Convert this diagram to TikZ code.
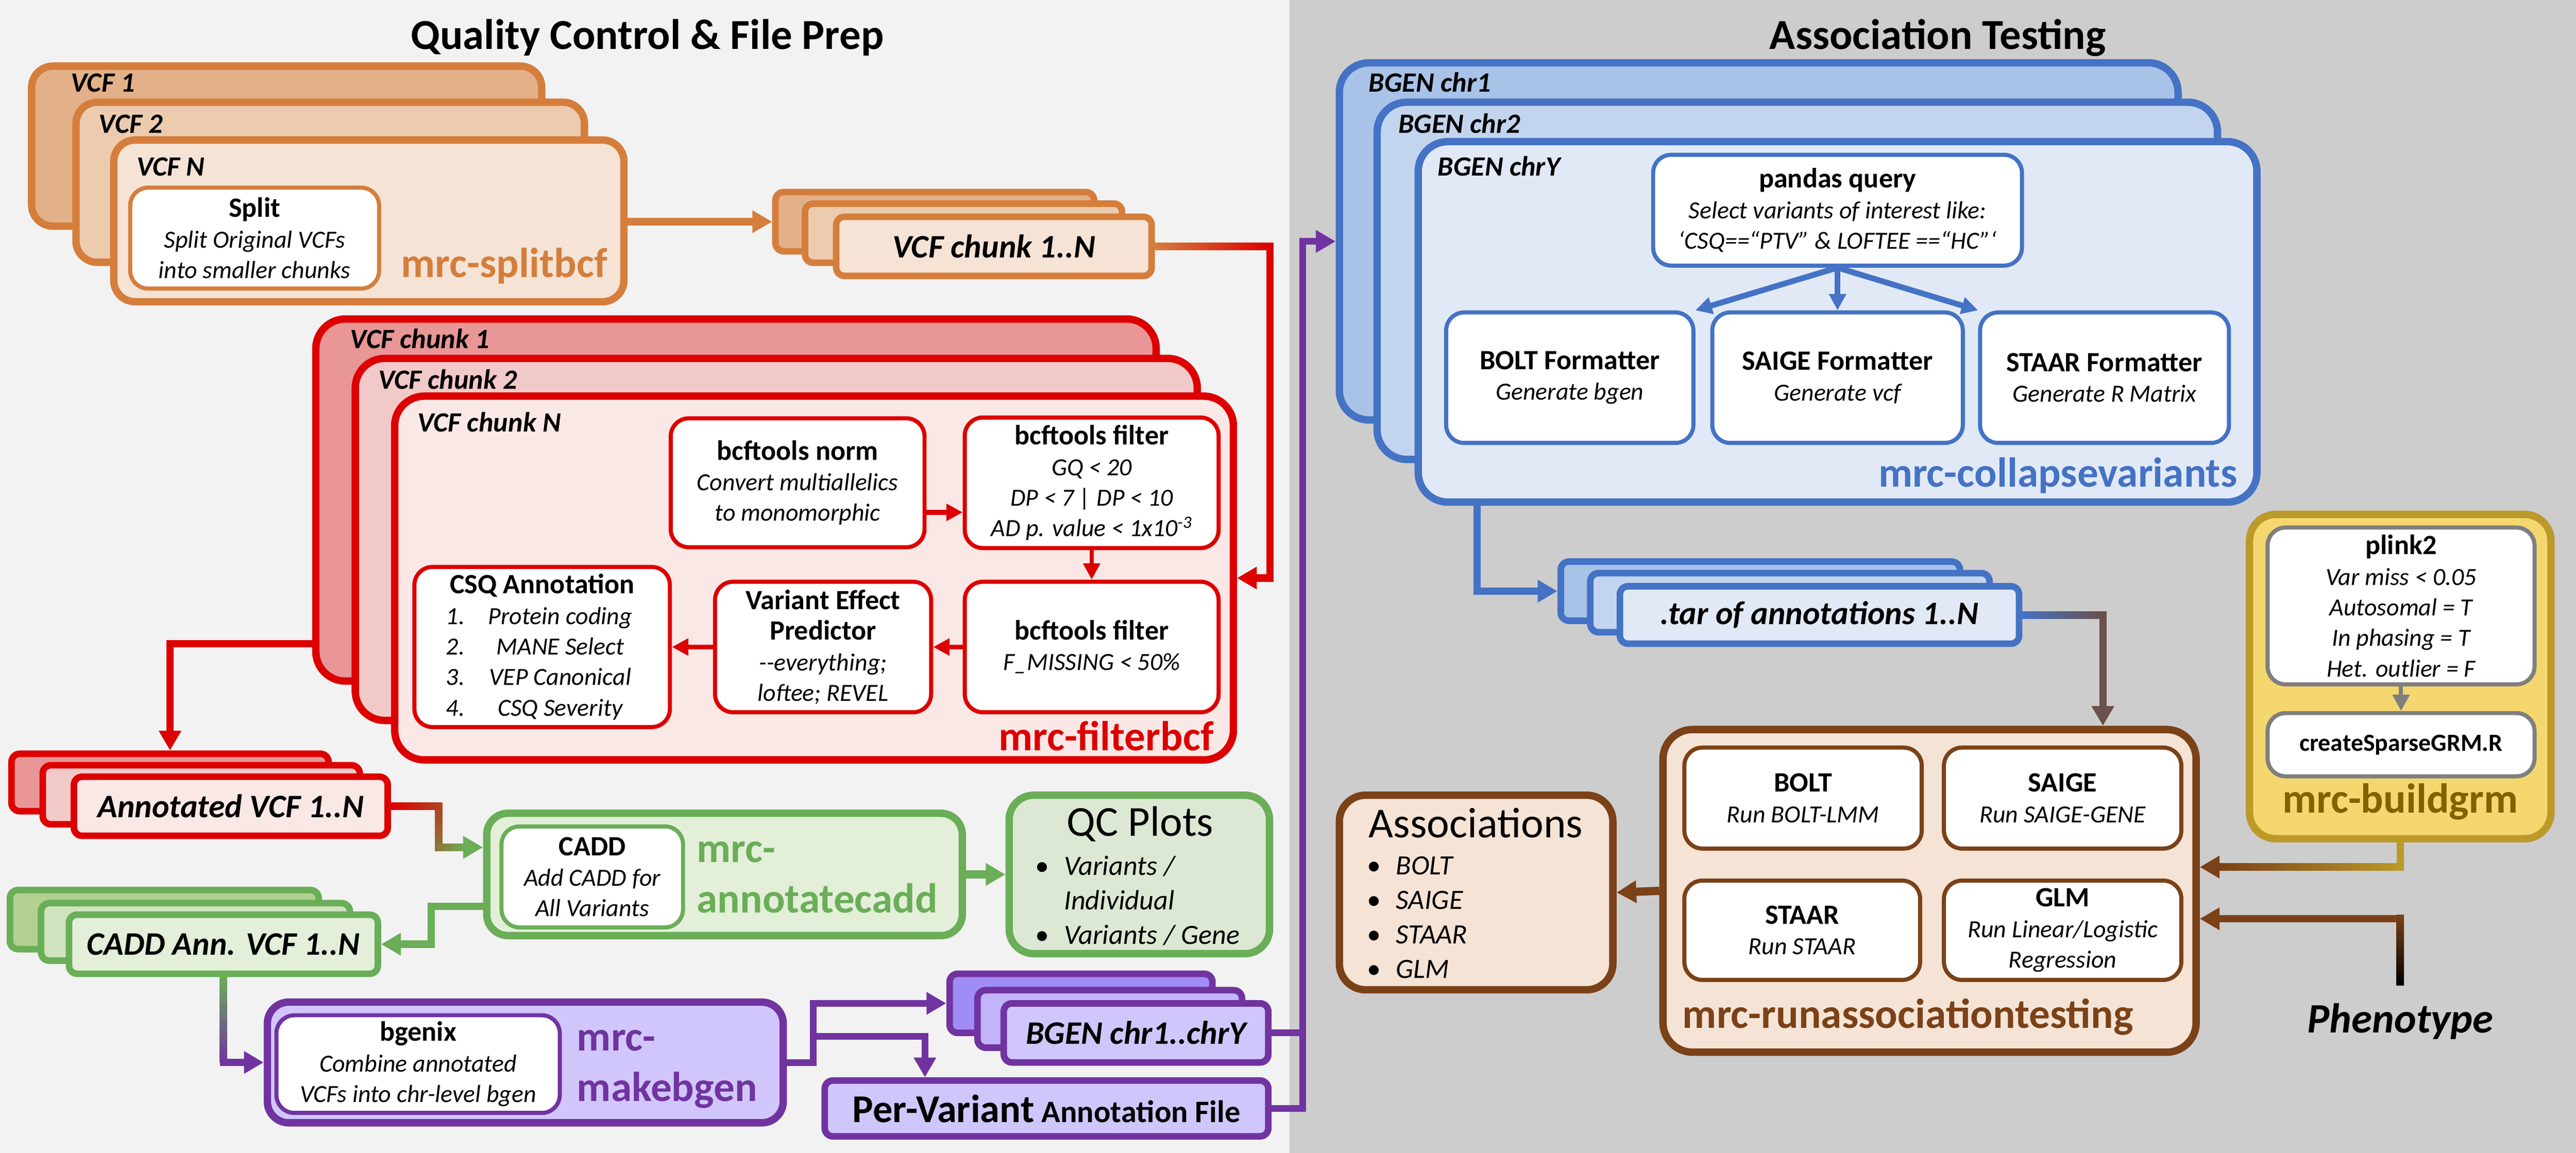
\documentclass[tikz,border=0pt]{standalone}
\usepackage{fontspec}
\setmainfont{Carlito}
\usetikzlibrary{arrows.meta,calc}

\definecolor{bgL}{HTML}{F2F2F2}
\definecolor{bgR}{HTML}{CDCDCD}
\definecolor{orB}{HTML}{D57E3C}
\definecolor{orA}{HTML}{E3B189}
\definecolor{orC}{HTML}{ECCBAF}
\definecolor{orD}{HTML}{F5E3D6}
\definecolor{rdB}{HTML}{DC0000}
\definecolor{rdA}{HTML}{E89696}
\definecolor{rdC}{HTML}{F2C9C9}
\definecolor{rdD}{HTML}{FAE8E6}
\definecolor{gnB}{HTML}{6AAE58}
\definecolor{gnA}{HTML}{B2D08F}
\definecolor{gnC}{HTML}{CFE3BE}
\definecolor{gnD}{HTML}{E3EFD9}
\definecolor{gnQ}{HTML}{DDE8D4}
\definecolor{puB}{HTML}{7033A0}
\definecolor{puA}{HTML}{A08CF5}
\definecolor{puC}{HTML}{C2B4F9}
\definecolor{puD}{HTML}{D1C6FB}
\definecolor{blB}{HTML}{4472C4}
\definecolor{blA}{HTML}{A9C2E7}
\definecolor{blC}{HTML}{C3D5EE}
\definecolor{blD}{HTML}{E1E9F6}
\definecolor{brB}{HTML}{7B4117}
\definecolor{brD}{HTML}{F5E3D6}
\definecolor{goB}{HTML}{BC9A2A}
\definecolor{goD}{HTML}{F4D76E}
\definecolor{goT}{HTML}{806200}
\definecolor{gyB}{HTML}{7F7F7F}

\newcommand{\hd}[1]{{\upshape\bfseries\fontsize{17}{18.6}\selectfont #1}}
\newcommand{\bul}{\makebox[17.5pt][l]{\upshape\textbullet}}
\newcommand{\rank}[2]{\makebox[22pt][l]{#1}\makebox[95pt]{#2}}

\tikzset{
  stack/.style={draw, line width=4.5pt, rounded corners=13pt, inner sep=0pt},
  tile/.style={draw, line width=4pt, rounded corners=5pt, inner sep=0pt,
    font=\bfseries\itshape\fontsize{20}{24}\selectfont},
  tool/.style={draw, fill=white, line width=2.5pt, rounded corners=11pt, inner sep=0pt,
    align=center, font=\itshape\fontsize{15}{18.6}\selectfont},
  tag/.style={anchor=base west, inner sep=0pt, font=\bfseries\itshape\fontsize{17}{20}\selectfont},
  mrc/.style={inner sep=0pt, font=\bfseries\fontsize{25.5}{30}\selectfont},
  lst/.style={anchor=north west, inner sep=0pt, align=left, font=\itshape\fontsize{17}{21}\selectfont},
  flow/.style={line width=4.5pt, -{Triangle[length=12pt,width=13pt]}},
  link/.style={line width=3pt, -{Triangle[length=10pt,width=10pt]}},
}

\begin{document}
\begin{tikzpicture}[x=1pt, y=-1pt]
\useasboundingbox (0,0) rectangle (1568,702);
\fill[bgL] (0,0) rectangle (785,702);
\fill[bgR] (785,0) rectangle (1568,702);

\node[font=\bfseries\fontsize{26}{30}\selectfont, anchor=base] (hqc) at (394,30) {Quality Control \& File Prep};
\node[font=\bfseries\fontsize{26}{30}\selectfont, anchor=base] (hat) at (1179.5,30) {Association Testing};

% mrc-splitbcf
\node[stack, draw=orB, fill=orA, minimum width=310.5pt, minimum height=97.5pt] (v1) at (174.5,89) {};
\node[tag] (tv1) at (43,56) {VCF 1};
\node[stack, draw=orB, fill=orC, minimum width=309.5pt, minimum height=97.5pt] (v2) at (201,111) {};
\node[tag] (tv2) at (60,81) {VCF 2};
\node[stack, draw=orB, fill=orD, minimum width=310.5pt, minimum height=98.5pt] (vN) at (224.5,134.5) {};
\node[tag] (tvN) at (83,107) {VCF N};
\node[tool, draw=orB, minimum width=151.5pt, minimum height=61.5pt] (sp) at (155,145) {\hd{Split}\\Split Original VCFs\\into smaller chunks};
\node[mrc, orB, anchor=base east] (lsp) at (370,169) {mrc-splitbcf};

\node[tile, draw=orB, fill=orA, minimum width=194pt, minimum height=36pt] (c1) at (569,135) {};
\node[tile, draw=orB, fill=orC, minimum width=193pt, minimum height=36pt] (c2) at (586.5,142) {};
\node[tile, draw=orB, fill=orD, minimum width=192pt, minimum height=36pt] (c3) at (605,150) {VCF chunk 1..N};

% mrc-filterbcf
\node[stack, rounded corners=18pt, draw=rdB, fill=rdA, minimum width=511.5pt, minimum height=220.5pt] (r1) at (448,304.5) {};
\node[tag] (tr1) at (213,212) {VCF chunk 1};
\node[stack, rounded corners=18pt, draw=rdB, fill=rdC, minimum width=512.5pt, minimum height=220.5pt] (r2) at (472.5,328.5) {};
\node[tag] (tr2) at (230,237) {VCF chunk 2};
\node[stack, rounded corners=18pt, draw=rdB, fill=rdD, minimum width=510.5pt, minimum height=221.5pt] (rN) at (495.5,352) {};
\node[tag] (trN) at (254,263) {VCF chunk N};

\node[tool, draw=rdB, minimum width=154.5pt, minimum height=78.5pt] (nm) at (485.5,294) {\hd{bcftools norm}\\Convert multiallelics\\to monomorphic};
\node[tool, draw=rdB, minimum width=154.5pt, minimum height=79.5pt] (f1) at (664.5,294) {\hd{bcftools filter}\\GQ < 20\\DP < 7 | DP < 10\\AD p. value < 1x10\textsuperscript{-3}};
\node[tool, draw=rdB, minimum width=154.5pt, minimum height=79.5pt] (f2) at (664.5,394) {\hd{bcftools filter}\\F\_MISSING < 50\%};
\node[tool, draw=rdB, minimum width=131.5pt, minimum height=79.5pt] (vp) at (501,394) {\hd{Variant Effect}\\\hd{Predictor}\\-{}-everything;\\loftee; REVEL};
\node[tool, draw=rdB, minimum width=155.5pt, minimum height=97.5pt] (cq) at (330,394) {\hd{CSQ Annotation}\\\rank{1.}{Protein coding}\\\rank{2.}{MANE Select}\\\rank{3.}{VEP Canonical}\\\rank{4.}{CSQ Severity}};
\node[mrc, rdB, anchor=base east] (lfb) at (739,457) {mrc-filterbcf};

\node[tile, draw=rdB, fill=rdA, minimum width=193pt, minimum height=35pt] (a1) at (103.5,476.5) {};
\node[tile, draw=rdB, fill=rdC, minimum width=193pt, minimum height=36pt] (a2) at (122.5,484) {};
\node[tile, draw=rdB, fill=rdD, minimum width=191pt, minimum height=36pt] (a3) at (140.5,491) {Annotated VCF 1..N};

% mrc-annotatecadd
\node[stack, draw=gnB, fill=gnD, minimum width=289.5pt, minimum height=74.5pt] (cad) at (441,532.5) {};
\node[tool, draw=gnB, minimum width=110.5pt, minimum height=61.5pt] (cd) at (360.5,534) {\hd{CADD}\\Add CADD for\\All Variants};
\node[mrc, gnB, anchor=base west] (lcd1) at (424,525) {mrc-};
\node[mrc, gnB, anchor=base west] (lcd2) at (424,556) {annotatecadd};

\node[stack, rounded corners=15pt, draw=gnB, fill=gnQ, minimum width=158.5pt, minimum height=96.5pt] (qc) at (693.5,532.5) {};
\node[font=\fontsize{26}{30}\selectfont, anchor=base, inner sep=0pt] (qct) at (694,509) {QC Plots};
\node[lst] (qcl) at (630,521) {\bul Variants /\\\hspace*{17.5pt}Individual\\\bul Variants / Gene};

\node[tile, draw=gnB, fill=gnA, minimum width=188pt, minimum height=36pt] (g1) at (100,560) {};
\node[tile, draw=gnB, fill=gnC, minimum width=188pt, minimum height=35pt] (g2) at (119,567.5) {};
\node[tile, draw=gnB, fill=gnD, minimum width=188pt, minimum height=36pt] (g3) at (136,575) {CADD Ann. VCF 1..N};

% mrc-makebgen
\node[stack, draw=puB, fill=puD, minimum width=314pt, minimum height=73.5pt] (mb) at (319.75,647) {};
\node[tool, draw=puB, minimum width=172.5pt, minimum height=59.5pt] (bx) at (254.5,648) {\hd{bgenix}\\Combine annotated\\VCFs into chr-level bgen};
\node[mrc, puB, anchor=base west] (lmb1) at (351,640) {mrc-};
\node[mrc, puB, anchor=base west] (lmb2) at (351,670.5) {makebgen};

\node[tile, draw=puB, fill=puA, minimum width=160pt, minimum height=36pt] (p1) at (658,611) {};
\node[tile, draw=puB, fill=puC, minimum width=161pt, minimum height=35pt] (p2) at (675.5,620.5) {};
\node[tile, draw=puB, fill=puD, minimum width=161pt, minimum height=36pt] (p3) at (691.5,629) {BGEN chr1..chrY};
\node[tile, draw=puB, fill=puD, minimum width=270pt, minimum height=34pt, font=\bfseries\fontsize{19}{24}\selectfont] (pv) at (637,675) {{\fontsize{24}{24}\selectfont Per-Variant} Annotation File};

% mrc-collapsevariants
\node[stack, rounded corners=18pt, draw=blB, fill=blA, minimum width=510.5pt, minimum height=217.5pt] (b1) at (1070.5,147) {};
\node[tag] (tb1) at (833,56) {BGEN chr1};
\node[stack, rounded corners=18pt, draw=blB, fill=blC, minimum width=511.5pt, minimum height=217.5pt] (b2) at (1094,171) {};
\node[tag] (tb2) at (851,81) {BGEN chr2};
\node[stack, rounded corners=18pt, draw=blB, fill=blD, minimum width=510.5pt, minimum height=219.5pt] (bY) at (1118.5,196) {};
\node[tag] (tbY) at (875,107) {BGEN chrY};

\node[tool, draw=blB, minimum width=224.5pt, minimum height=67.5pt] (pq) at (1118.5,128) {\hd{pandas query}\\Select variants of interest like:\\‘CSQ==“PTV” \& LOFTEE ==“HC”‘};
\node[tool, draw=blB, minimum width=150.5pt, minimum height=79.5pt] (bf) at (955.5,230) {\hd{BOLT Formatter}\\Generate bgen};
\node[tool, draw=blB, minimum width=152.5pt, minimum height=79.5pt] (sf) at (1118.5,230) {\hd{SAIGE Formatter}\\Generate vcf};
\node[tool, draw=blB, minimum width=151.5pt, minimum height=79.5pt] (tf) at (1281,230) {\hd{STAAR Formatter}\\Generate R Matrix};
\node[mrc, blB, anchor=base east] (lcv) at (1362,296.5) {mrc-collapsevariants};

\node[tile, draw=blB, fill=blA, minimum width=243pt, minimum height=36pt] (t1) at (1071.5,360) {};
\node[tile, draw=blB, fill=blC, minimum width=243pt, minimum height=36pt] (t2) at (1089.5,367) {};
\node[tile, draw=blB, fill=blD, minimum width=243pt, minimum height=35pt] (t3) at (1107.5,374.5) {.tar of annotations 1..N};

% mrc-runassociationtesting
\node[stack, rounded corners=18pt, draw=brB, fill=brD, minimum width=324.5pt, minimum height=196.5pt] (ra) at (1174.5,542.5) {};
\node[tool, draw=brB, minimum width=144.5pt, minimum height=61.5pt] (bo) at (1097.5,486) {\hd{BOLT}\\Run BOLT-LMM};
\node[tool, draw=brB, minimum width=144.5pt, minimum height=61.5pt] (sa) at (1255.5,486) {\hd{SAIGE}\\Run SAIGE-GENE};
\node[tool, draw=brB, minimum width=143.5pt, minimum height=60.5pt] (st) at (1097,566.5) {\hd{STAAR}\\Run STAAR};
\node[tool, draw=brB, minimum width=144.5pt, minimum height=60.5pt] (gl) at (1255.5,566.5) {\hd{GLM}\\Run Linear/Logistic\\Regression};
\node[mrc, brB, anchor=base west] (lra) at (1024,626) {mrc-runassociationtesting};

\node[stack, rounded corners=16pt, draw=brB, fill=brD, minimum width=166.5pt, minimum height=118.5pt] (as) at (898.5,543.5) {};
\node[font=\fontsize{26}{30}\selectfont, anchor=base west, inner sep=0pt] (ast) at (833,510) {Associations};
\node[lst] (asl) at (832,521.5) {\bul BOLT\\\bul SAIGE\\\bul STAAR\\\bul GLM};

% mrc-buildgrm
\node[stack, rounded corners=16pt, draw=goB, fill=goD, minimum width=183.5pt, minimum height=197.5pt] (bg) at (1461,412) {};
\node[tool, draw=gyB, minimum width=162.5pt, minimum height=95.5pt] (pl) at (1461.5,369) {\hd{plink2}\\Var miss < 0.05\\Autosomal = T\\In phasing = T\\Het. outlier = F};
\node[tool, draw=gyB, minimum width=162.5pt, minimum height=38.5pt, font=\upshape\bfseries\fontsize{15}{18.6}\selectfont] (cs) at (1461.5,453.5) {createSparseGRM.R};
\node[mrc, goT, anchor=base] (lbg) at (1461,495) {mrc-buildgrm};

\node[font=\bfseries\itshape\fontsize{25.5}{30}\selectfont, anchor=base, inner sep=0pt] (ph) at (1461,629) {Phenotype};

% connectors
\coordinate (k1) at (773,352);
\coordinate (k2) at (103.5,392);
\coordinate (k3) at (267,491);
\coordinate (k4) at (262.5,552);
\coordinate (k5) at (495,647);
\coordinate (k6) at (495,631);
\coordinate (k7) at (793,0);

\draw[flow, orB] (vN.east |- c1.west) -- (c1.west);
\draw[flow, rdB] (c3.east) -| (k1) -- (rN.east);
\shade[left color=orB, right color=rdB] ($(c3.east)+(0,-2.25)$) rectangle ($(k1 |- c3.east)+(0,2.25)$);

\draw[link, rdB] ([yshift=-18pt]nm.east) -- ([yshift=-18pt]f1.west);
\draw[link, rdB, line width=2.5pt] (f1.south) -- (f2.north);
\draw[link, rdB] (f2.west) -- (vp.east);
\draw[link, rdB] (vp.west) -- (cq.east);
\draw[flow, rdB] (r1.west |- k2) -- (k2) -- (a1.north);

\draw[flow, gnB] (a3.east) -- (k3) |- ([yshift=16.5pt]cad.west);
\shade[left color=rdB, right color=rdB!60!gnB] ($(a3.east)+(0,-2.25)$) rectangle ($(k3)+(2.25,2.25)$);
\shade[top color=rdB!60!gnB, bottom color=rdB!35!gnB] ($(k3)+(-2.25,2.25)$) rectangle ($(k3)+(2.25,25)$);
\shade[left color=rdB!35!gnB, right color=gnB] ($(k3)+(-2.25,22.75)$) rectangle ($(k3)+(16,27.25)$);
\draw[flow, gnB, line width=5pt] (cad.east) -- (qc.west);
\draw[flow, gnB] (cad.west |- k4) -- (k4) |- (g3.east);

\draw[flow, puB] (g3.south) |- (mb.west);
\shade[top color=gnB, bottom color=puB] ($(g3.south)+(-2.25,0)$) rectangle ($(g3.south |- mb.west)+(2.25,0)$);
\draw[flow, puB, line width=4pt] (mb.east) -- (k5) |- (p1.west);
\draw[flow, puB, line width=4pt] (k6) -| ([xshift=-74pt]pv.north);
\draw[puB, line width=4pt] (pv.east) -| (k7 |- p3.east);
\draw[flow, puB, line width=4pt] (p3.east) -| (k7 |- b1.west) -- (b1.west);

\draw[link, blB, line width=3.5pt] (pq.south) -- (bf.north east);
\draw[link, blB, line width=3.5pt] (pq.south) -- (sf.north);
\draw[link, blB, line width=3.5pt] (pq.south) -- (tf.north west);
\draw[flow, blB] ([xshift=-219.5pt]bY.south) |- (t1.west);
\draw[flow, brB!70!blB] (t3.east) -| ([xshift=105.5pt]ra.north);
\shade[left color=blB, right color=brB!70!blB] ($(t3.east)+(0,-2.25)$) rectangle ($(t3.east -| ra.north)+(105.5,2.25)$);

\draw[flow, brB, line width=5pt] (ra.west) -- (as.east);
\draw[flow, brB] (bg.south) |- ([yshift=14.5pt]ra.east);
\shade[left color=brB, right color=goB] ($(ra.east)+(12,-16.75)$) rectangle ($(bg.south |- ra.east)+(2.25,-12.25)$);
\draw[goB, line width=4.5pt] (bg.south) -- ($(bg.south |- ra.east)+(0,-12.25)$);
\draw[flow, brB] ([yshift=11pt]ph.north) |- ([yshift=-17pt]ra.east);
\shade[top color=brB, bottom color=black] ($(ph.north)+(-2.25,-11)$) rectangle ($(ph.north |- ra.east)+(2.25,14.75)$);
\draw[link, gyB, line width=2.5pt] (pl.south) -- (cs.north);
\end{tikzpicture}
\end{document}
